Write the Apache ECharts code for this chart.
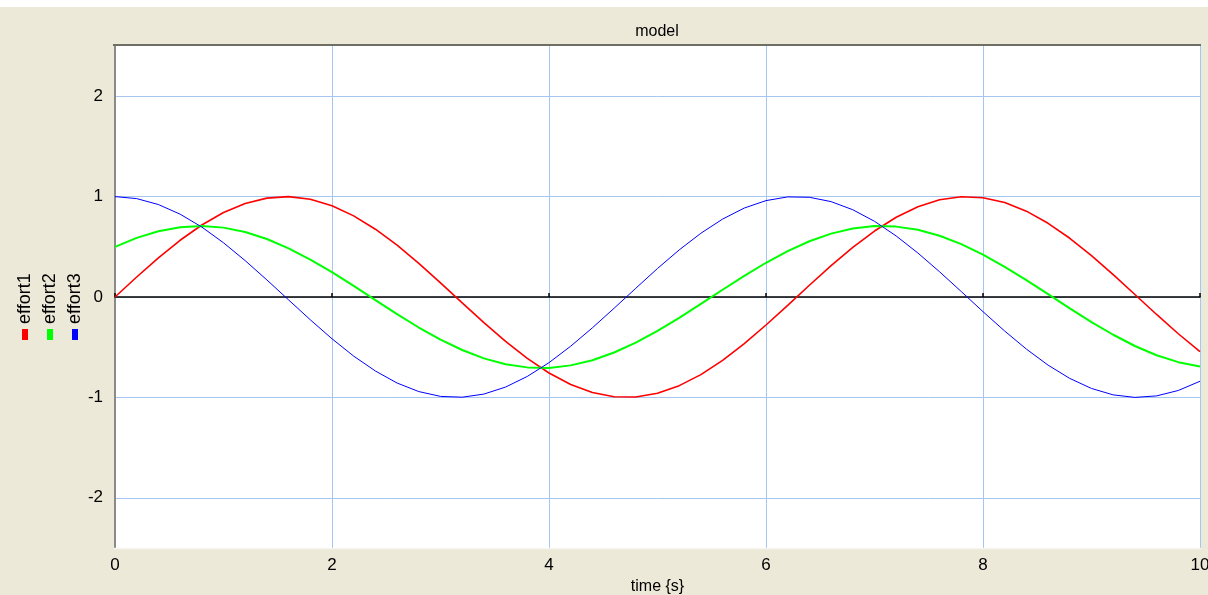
<!DOCTYPE html>
<html><head><meta charset="utf-8">
<script src="https://cdn.jsdelivr.net/npm/echarts@6/dist/echarts.min.js"></script>
<style>html,body{margin:0;padding:0;background:#ECE9D8;overflow:hidden;}#c{width:1208px;height:595px;}</style>
</head><body><div id="c"></div>
<script>
var time = [0,0.2,0.4,0.6,0.8,1,1.2,1.4,1.6,1.8,2,2.2,2.4,2.6,2.8,3,3.2,3.4,3.6,3.8,4,4.2,4.4,4.6,4.8,5,5.2,5.4,5.6,5.8,6,6.2,6.4,6.6,6.8,7,7.2,7.4,7.6,7.8,8,8.2,8.4,8.6,8.8,9,9.2,9.4,9.6,9.8,10];
var effort1 = [0,0.199,0.389,0.565,0.717,0.841,0.932,0.985,0.9996,0.974,0.909,0.808,0.675,0.516,0.335,0.141,-0.058,-0.256,-0.443,-0.612,-0.757,-0.872,-0.952,-0.994,-0.996,-0.959,-0.883,-0.773,-0.631,-0.465,-0.279,-0.083,0.117,0.312,0.494,0.657,0.794,0.899,0.968,0.999,0.989,0.941,0.855,0.734,0.585,0.412,0.223,0.025,-0.174,-0.366,-0.544];
var effort2 = [0.5,0.589,0.655,0.695,0.707,0.691,0.647,0.578,0.485,0.373,0.247,0.110,-0.031,-0.171,-0.304,-0.425,-0.528,-0.611,-0.670,-0.701,-0.706,-0.681,-0.630,-0.553,-0.454,-0.338,-0.207,-0.069,0.072,0.210,0.341,0.457,0.555,0.631,0.682,0.706,0.701,0.669,0.610,0.527,0.422,0.301,0.168,0.028,-0.113,-0.250,-0.376,-0.488,-0.580,-0.649,-0.692];
var effort3 = [1,0.980,0.921,0.825,0.697,0.540,0.362,0.170,-0.029,-0.227,-0.416,-0.589,-0.737,-0.857,-0.942,-0.990,-0.998,-0.967,-0.897,-0.791,-0.654,-0.490,-0.307,-0.112,0.087,0.284,0.469,0.635,0.776,0.886,0.960,0.997,0.993,0.950,0.869,0.754,0.608,0.438,0.251,0.054,-0.146,-0.339,-0.519,-0.679,-0.811,-0.911,-0.975,-1.000,-0.985,-0.931,-0.839];
var seriesNames = ['effort1','effort2','effort3'];
var yTicks = [-2,-1,0,1,2];
var title = 'model';
var xName = 'time {s}';

var colors = ['#FF0000','#00FF00','#0000FF'];
var widths = [1.6,2,1];
var values = [effort1, effort2, effort3];
function pairs(v){ return time.map(function(t,i){ return [t, v[i]]; }); }

var FONT = 'Liberation Sans, Arial, sans-serif';
var chart = echarts.init(document.getElementById('c'), null, {renderer:'canvas'});

var series = values.map(function(v,i){
  return {
    name: seriesNames[i], type:'line', data: pairs(v), smooth: false, showSymbol:false,
    lineStyle:{color:colors[i], width:widths[i]}, itemStyle:{color:colors[i]}, z: 3 + (i===2?1:0)
  };
});

var legendGraphics = [];
seriesNames.forEach(function(n,i){
  var x = 25 + i*25;
  legendGraphics.push({type:'text', x:x, y:324, rotation:Math.PI/2,
    style:{text:n, font:'18px '+FONT, fill:'#000', align:'left', verticalAlign:'middle'}});
  legendGraphics.push({type:'rect', shape:{x:x-3, y:329, width:6, height:11}, style:{fill:colors[i]}});
});

chart.setOption({
  backgroundColor:'#ECE9D8',
  animation:false,
  title:{text:title, left:657, textAlign:'center', top:24, padding:0, textStyle:{fontFamily:FONT, fontSize:16, fontWeight:'normal', color:'#000'}},
  grid:{left:115, right:8, top:46, bottom:47, show:true, backgroundColor:'#FFFFFF', borderWidth:0, containLabel:false, outerBoundsMode:'none'},
  xAxis:[{
    type:'value', min:0, max:10, interval:2, position:'bottom',
    name:xName, nameLocation:'middle', nameGap:28,
    nameTextStyle:{fontFamily:FONT, fontSize:16, color:'#000'},
    axisLine:{show:false, onZero:false}, axisTick:{show:false},
    axisLabel:{fontFamily:FONT, fontSize:17, color:'#000', margin:9, showMaxLabel:true},
    splitLine:{show:true, lineStyle:{color:'#A6C6F2', width:1}}
  },{
    type:'value', min:0, max:10, interval:2, position:'top',
    axisLine:{show:true, onZero:true, lineStyle:{color:'#000', width:1.5}},
    axisTick:{show:true, inside:false, length:4, lineStyle:{color:'#000', width:1.5}},
    axisLabel:{show:false}, splitLine:{show:false}
  }],
  yAxis:{
    type:'value', min:-2.5, max:2.5,
    axisLine:{show:true, onZero:false, lineStyle:{color:'#8A8A8A', width:2}},
    axisTick:{show:false, customValues:yTicks},
    axisLabel:{fontFamily:FONT, fontSize:17, color:'#000', margin:12, customValues:yTicks},
    splitLine:{show:true, lineStyle:{color:'#A6C6F2', width:1}}
  },
  series: series,
  graphic: [
    {type:'rect', shape:{x:0,y:0,width:1208,height:7}, style:{fill:'#FFFFFF'}, silent:true},
    {type:'line', shape:{x1:113,y1:45,x2:1201,y2:45}, style:{stroke:'#6E6E64', lineWidth:2}, silent:true, z:10},
    {type:'line', shape:{x1:114,y1:548.5,x2:1201,y2:548.5}, style:{stroke:'#F6F5F0', lineWidth:1.5}, silent:true, z:10}
  ].concat(legendGraphics)
});
</script></body></html>
